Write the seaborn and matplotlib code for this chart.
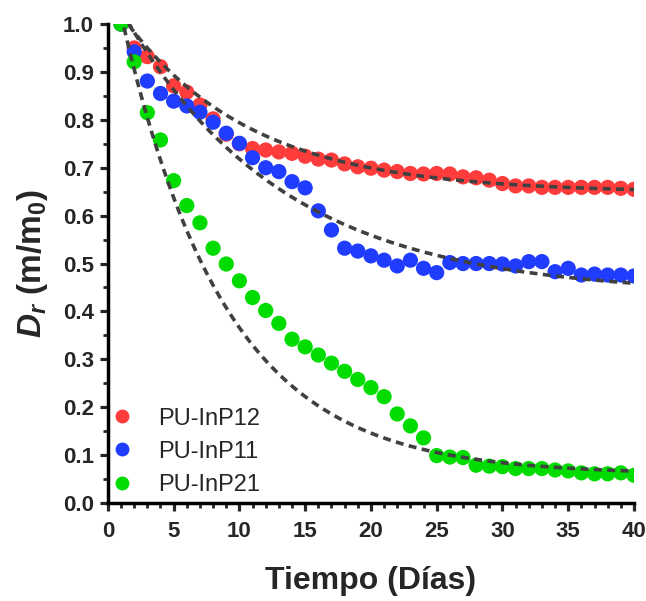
import numpy as np
import pandas as pd
import seaborn as sns
import matplotlib.pyplot as plt
from matplotlib.ticker import MultipleLocator

# datos (Dr = m/m0 por dia)
dias = list(range(1, 41))

pu_inp12 = [1.000, 0.950, 0.932, 0.911, 0.871, 0.858, 0.831, 0.802, 0.770, 0.750,
            0.740, 0.737, 0.733, 0.730, 0.724, 0.718, 0.716, 0.708, 0.702, 0.699,
            0.695, 0.692, 0.688, 0.687, 0.688, 0.687, 0.681, 0.679, 0.674, 0.667,
            0.662, 0.662, 0.659, 0.659, 0.659, 0.659, 0.659, 0.659, 0.657, 0.655]

pu_inp11 = [1.000, 0.942, 0.881, 0.855, 0.839, 0.829, 0.816, 0.795, 0.772, 0.751,
            0.721, 0.700, 0.692, 0.671, 0.658, 0.610, 0.570, 0.532, 0.526, 0.516,
            0.507, 0.495, 0.507, 0.490, 0.481, 0.502, 0.500, 0.500, 0.500, 0.499,
            0.495, 0.504, 0.504, 0.483, 0.490, 0.476, 0.478, 0.476, 0.476, 0.474]

pu_inp21 = [1.000, 0.921, 0.815, 0.758, 0.673, 0.621, 0.585, 0.532, 0.499, 0.464,
            0.429, 0.402, 0.375, 0.342, 0.326, 0.309, 0.292, 0.275, 0.258, 0.241,
            0.222, 0.186, 0.161, 0.136, 0.099, 0.096, 0.095, 0.079, 0.077, 0.076,
            0.072, 0.072, 0.072, 0.069, 0.067, 0.063, 0.061, 0.061, 0.063, 0.058]

series = ['PU-InP12', 'PU-InP11', 'PU-InP21']
colores = ['#ff3c3c', '#1f3cff', '#00dc00']

# parametros del ajuste exponencial (meseta, valor en dia 1, constante k)
meseta = [0.648, 0.435, 0.060]
y_dia1 = [1.020, 1.030, 1.020]
k_ajuste = [0.104, 0.0825, 0.127]

df = pd.DataFrame({
    'dia': dias * 3,
    'Dr': pu_inp12 + pu_inp11 + pu_inp21,
    'muestra': [s for s in series for _ in dias],
})

sns.set_style('ticks')
plt.rcParams['font.family'] = ['Liberation Sans', 'DejaVu Sans']
plt.rcParams['mathtext.fontset'] = 'custom'
plt.rcParams['mathtext.rm'] = 'Liberation Sans:bold'
plt.rcParams['mathtext.it'] = 'Liberation Sans:italic:bold'
plt.rcParams['mathtext.bf'] = 'Liberation Sans:bold'

fig = plt.figure(figsize=(6.46, 6.01), dpi=100)
ax = fig.add_axes([0.167, 0.163, 0.8144, 0.797])

sns.scatterplot(data=df, x='dia', y='Dr', hue='muestra', hue_order=series,
                palette=colores, s=120, edgecolor='none', linewidth=0, ax=ax, zorder=2)

# curvas de ajuste
t = np.linspace(1, 40, 300)
for m, y0, k in zip(meseta, y_dia1, k_ajuste):
    ajuste = m + (y0 - m) * np.exp(-k * (t - 1))
    sns.lineplot(x=t, y=ajuste, color='#404040', lw=2.6, ls=(0, (2.2, 1.5)),
                 ax=ax, zorder=3)

ax.set_xlim(0, 40)
ax.set_ylim(0, 1.0)
ax.xaxis.set_major_locator(MultipleLocator(5))
ax.xaxis.set_minor_locator(MultipleLocator(1))
ax.yaxis.set_major_locator(MultipleLocator(0.1))
ax.yaxis.set_minor_locator(MultipleLocator(0.05))
ax.set_yticks(np.arange(0, 1.01, 0.1))
ax.set_yticklabels([f'{v:.1f}' for v in np.arange(0, 1.01, 0.1)])

for s in ['top', 'right']:
    ax.spines[s].set_visible(False)
for s in ['left', 'bottom']:
    ax.spines[s].set_linewidth(2.5)
    ax.spines[s].set_color('black')

ax.tick_params(which='major', length=6, width=2.3, direction='out', labelsize=16)
ax.tick_params(which='minor', length=3.5, width=2.0, direction='out')
ax.tick_params(axis='x', which='major', pad=7)
ax.tick_params(axis='y', which='major', pad=4)
for lab in ax.get_xticklabels() + ax.get_yticklabels():
    lab.set_fontweight('bold')

ax.set_xlabel('Tiempo (Días)', fontsize=23, fontweight='bold', labelpad=17)
ax.set_ylabel(r'$D_r$ (m/m$_0$)', fontsize=24, fontweight='bold', labelpad=9)

leg = ax.legend(loc='lower left', bbox_to_anchor=(0.004, 0.015), frameon=False,
                fontsize=17, handlelength=1.0, handletextpad=1.05,
                labelspacing=0.47, borderaxespad=0.0, borderpad=0.0)
for h in leg.legend_handles:
    h.set_markersize(10)

fig.savefig('out.png', dpi=100)
